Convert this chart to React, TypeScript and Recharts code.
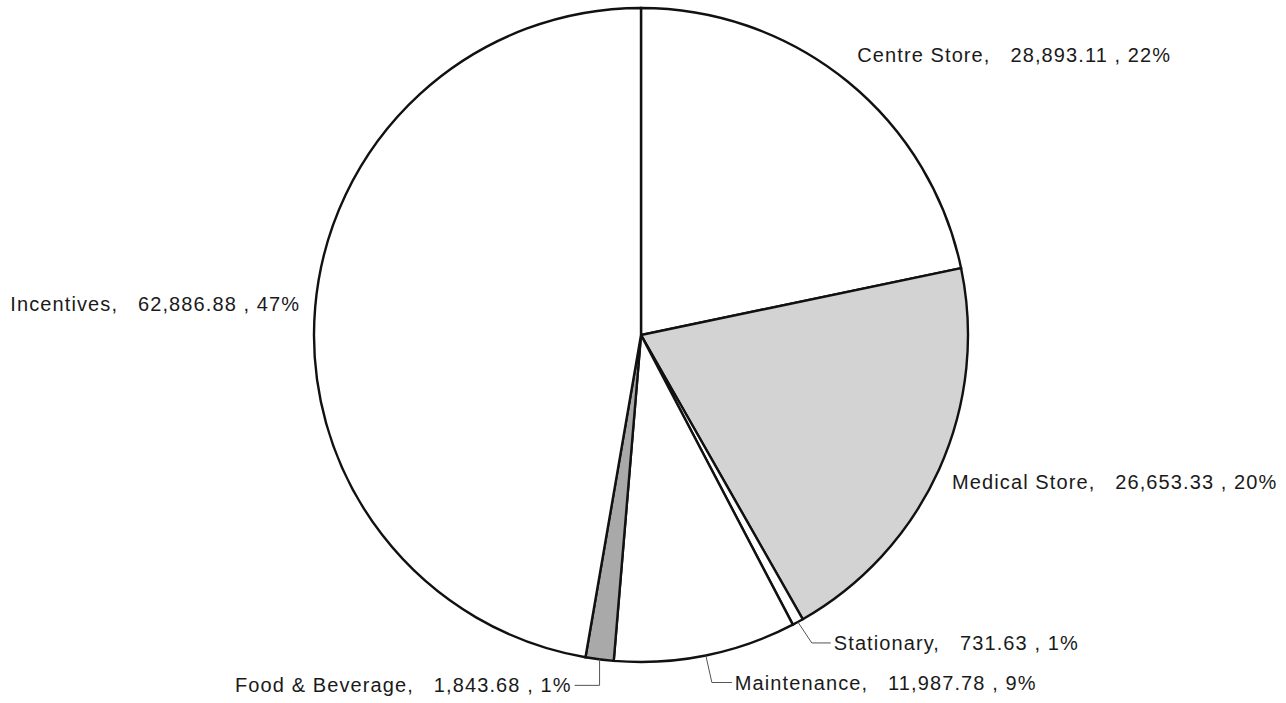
import { PieChart, Pie, Cell } from "recharts";

const categories = ["Centre Store", "Medical Store", "Stationary", "Maintenance", "Food & Beverage", "Incentives"];
const amounts = [28893.11, 26653.33, 731.63, 11987.78, 1843.68, 62886.88];
const fills = ["#ffffff", "#d3d3d3", "#ffffff", "#ffffff", "#a9a9a9", "#ffffff"];

// label placement relative to the slice's mid point on the rim
// leader: draw an elbow line from the rim to (rim.x + ex, rim.y + dy) then across to the text
const labelSpots = [
  { dx: 10, dy: -26, anchor: "start", leader: false, ex: 0 },
  { dx: 13, dy: 13, anchor: "start", leader: false, ex: 0 },
  { dx: 36, dy: 21, anchor: "start", leader: true, ex: 14 },
  { dx: 29, dy: 27, anchor: "start", leader: true, ex: 6 },
  { dx: -28, dy: 26, anchor: "end", leader: true, ex: 0 },
  { dx: -15, dy: -3, anchor: "end", leader: false, ex: 0 },
];

const data = categories.map((name, i) => ({ name, value: amounts[i] }));

const RAD = Math.PI / 180;
const NB = "\u00a0";

const fmt = (v: number) =>
  v.toLocaleString("en-US", { minimumFractionDigits: 2, maximumFractionDigits: 2 });

// eslint-disable-next-line @typescript-eslint/no-explicit-any
const SliceLabel = (props: any) => {
  const { cx, cy, midAngle, outerRadius, index, value, percent } = props;
  const spot = labelSpots[index];
  const rx = cx + outerRadius * Math.cos(-midAngle * RAD);
  const ry = cy + outerRadius * Math.sin(-midAngle * RAD);
  const tx = rx + spot.dx;
  const ty = ry + spot.dy;
  const text = `${categories[index]},${NB}${NB}${NB}${fmt(value)}${NB},${NB}${Math.round(percent * 100)}%`;
  const gap = spot.anchor === "start" ? -3 : 3;
  return (
    <g>
      {spot.leader && (
        <polyline
          points={`${rx},${ry} ${rx + spot.ex},${ty} ${tx + gap},${ty}`}
          fill="none"
          stroke="#555"
          strokeWidth={1}
        />
      )}
      <text
        x={tx}
        y={ty}
        textAnchor={spot.anchor}
        dominantBaseline="central"
        fill="#1a1a1a"
        fontSize={20}
        letterSpacing={1.1}
        fontFamily="'Liberation Sans', Arial, sans-serif"
      >
        {text}
      </text>
    </g>
  );
};

export default function App() {
  return (
    <div style={{ width: 1286, height: 703, background: "#ffffff" }}>
      <style>{"body{margin:0;background:#fff}"}</style>
      <PieChart width={1286} height={703} margin={{ top: 0, right: 0, bottom: 0, left: 0 }}>
        <Pie
          data={data}
          dataKey="value"
          nameKey="name"
          cx={641}
          cy={335}
          outerRadius={327}
          startAngle={90}
          endAngle={-270}
          stroke="#111"
          strokeWidth={2.4}
          label={SliceLabel}
          labelLine={false}
          isAnimationActive={false}
        >
          {data.map((d, i) => (
            <Cell key={d.name} fill={fills[i]} />
          ))}
        </Pie>
      </PieChart>
    </div>
  );
}
